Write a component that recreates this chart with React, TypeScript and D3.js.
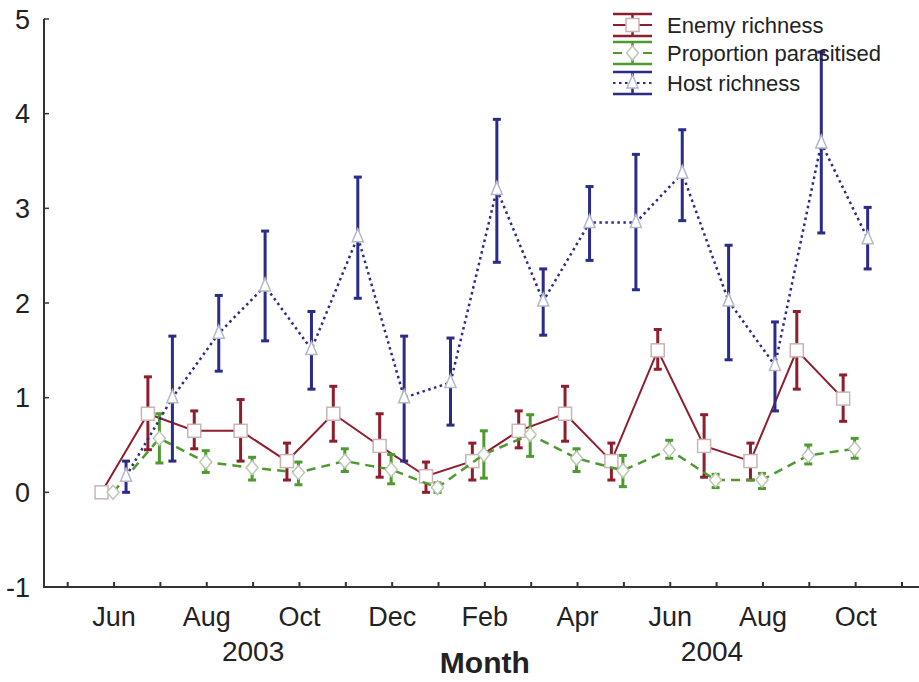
import * as d3 from 'd3'

// months on the x axis, May 2003 .. Nov 2004 (one tick each)
const tickMonths = ['May', 'Jun', 'Jul', 'Aug', 'Sep', 'Oct', 'Nov', 'Dec', 'Jan', 'Feb', 'Mar', 'Apr', 'May', 'Jun', 'Jul', 'Aug', 'Sep', 'Oct', 'Nov']
const labelledTicks = [1, 3, 5, 7, 9, 11, 13, 15, 17]
const years = [
  { label: '2003', at: 4.0 },
  { label: '2004', at: 13.9 },
]
const yTicks = [-1, 0, 1, 2, 3, 4, 5]

// sampled months Jun 2003 .. Oct 2004 (tick index)
const sampleIdx = [1, 2, 3, 4, 5, 6, 7, 8, 9, 10, 11, 12, 13, 14, 15, 16, 17]

const enemyMean = [0, 0.83, 0.65, 0.65, 0.33, 0.83, 0.49, 0.17, 0.33, 0.65, 0.83, 0.33, 1.5, 0.49, 0.33, 1.5, 0.99]
const enemyLow = [null, 0.45, 0.46, 0.33, 0.13, 0.54, 0.16, 0, 0.13, 0.47, 0.54, 0.13, 1.3, 0.16, 0.13, 1.09, 0.75]
const enemyHigh = [null, 1.22, 0.86, 0.98, 0.52, 1.12, 0.83, 0.32, 0.52, 0.86, 1.12, 0.52, 1.72, 0.82, 0.52, 1.91, 1.24]

const parasMean = [0, 0.57, 0.32, 0.26, 0.21, 0.33, 0.24, 0.05, 0.4, 0.61, 0.36, 0.23, 0.45, 0.13, 0.13, 0.39, 0.46]
const parasLow = [null, 0.31, 0.21, 0.13, 0.08, 0.22, 0.09, 0, 0.15, 0.38, 0.22, 0.06, 0.36, 0.05, 0.04, 0.3, 0.36]
const parasHigh = [null, 0.83, 0.44, 0.37, 0.32, 0.46, 0.4, 0.1, 0.65, 0.82, 0.46, 0.39, 0.55, 0.19, 0.2, 0.5, 0.57]

const hostMean = [0.17, 1.0, 1.68, 2.18, 1.51, 2.7, 1.0, 1.16, 3.2, 2.02, 2.85, 2.85, 3.37, 2.02, 1.34, 3.69, 2.68]
const hostLow = [0, 0.33, 1.28, 1.6, 1.09, 2.05, 0.33, 0.71, 2.43, 1.66, 2.45, 2.14, 2.87, 1.4, 0.86, 2.74, 2.36]
const hostHigh = [0.33, 1.65, 2.08, 2.76, 1.91, 3.33, 1.65, 1.63, 3.94, 2.36, 3.23, 3.57, 3.83, 2.61, 1.8, 4.65, 3.01]

const width = 919
const height = 682
const font = '"Liberation Sans", Arial, sans-serif'

const x = d3.scaleLinear().domain([0, 18]).range([67.7, 902])
const y = d3.scaleLinear().domain([-1, 5]).range([587, 19])

const series = [
  { name: 'Enemy richness', mean: enemyMean, low: enemyLow, high: enemyHigh, color: '#8e1d2e', dash: null, lw: 2, shift: -12.5, marker: 'square', mStroke: '#c9b4b6' },
  { name: 'Proportion parasitised', mean: parasMean, low: parasLow, high: parasHigh, color: '#4f9a2e', dash: '9,6', lw: 2.5, shift: -1, marker: 'diamond', mStroke: '#bcc9b4' },
  { name: 'Host richness', mean: hostMean, low: hostLow, high: hostHigh, color: '#2b2b88', dash: '2.5,3.5', lw: 2.5, shift: 12, marker: 'triangle', mStroke: '#b6b6cc' },
]

function Marker({ kind, cx, cy, stroke }) {
  if (kind === 'square') {
    return <rect x={cx - 6.5} y={cy - 6.5} width={13} height={13} fill="#fff" stroke={stroke} strokeWidth={1.5} />
  }
  if (kind === 'diamond') {
    return <path d={`M${cx},${cy - 7}L${cx + 6},${cy}L${cx},${cy + 7}L${cx - 6},${cy}Z`} fill="#fff" stroke={stroke} strokeWidth={1.5} />
  }
  return <path d={`M${cx},${cy - 8}L${cx + 5.5},${cy + 5}L${cx - 5.5},${cy + 5}Z`} fill="#fff" stroke={stroke} strokeWidth={1.5} />
}

export default function App() {
  const legendRows = [25, 53, 83]

  return (
    <svg width={width} height={height} style={{ position: 'absolute', left: 0, top: 0, background: '#fff' }} fontFamily={font}>
      {/* axes */}
      <line x1={44} x2={44} y1={y(5)} y2={y(-1)} stroke="#333" strokeWidth={2} />
      <line x1={43} x2={919} y1={y(-1)} y2={y(-1)} stroke="#333" strokeWidth={2} />
      {yTicks.map((t) => (
        <g key={t}>
          <line x1={44} x2={49} y1={y(t)} y2={y(t)} stroke="#333" strokeWidth={1.5} />
          <text x={30} y={y(t)} dy="0.36em" textAnchor="end" fontSize={27} fill="#222">
            {t}
          </text>
        </g>
      ))}
      {tickMonths.map((m, i) => (
        <line key={i} x1={x(i)} x2={x(i)} y1={y(-1)} y2={y(-1) - 5} stroke="#333" strokeWidth={2} />
      ))}
      {labelledTicks.map((i) => (
        <text key={i} x={x(i)} y={626} textAnchor="middle" fontSize={27} fill="#222">
          {tickMonths[i]}
        </text>
      ))}
      {years.map((yr) => (
        <text key={yr.label} x={x(yr.at)} y={661} textAnchor="middle" fontSize={28} fill="#222">
          {yr.label}
        </text>
      ))}
      <text x={x(9)} y={673} textAnchor="middle" fontSize={30} fontWeight="bold" fill="#222">
        Month
      </text>

      {/* series */}
      {series.map((s) => {
        const pts = sampleIdx.map((idx, k) => ({ px: x(idx) + s.shift, v: s.mean[k], lo: s.low[k], hi: s.high[k] }))
        const line = d3
          .line()
          .x((d) => d.px)
          .y((d) => y(d.v))
        return (
          <g key={s.name}>
            <path d={line(pts)} fill="none" stroke={s.color} strokeWidth={s.lw} strokeDasharray={s.dash || undefined} />
            {pts
              .filter((d) => d.lo !== null)
              .map((d, k) => (
                <g key={k} stroke={s.color} strokeWidth={3}>
                  <line x1={d.px} x2={d.px} y1={y(d.lo)} y2={y(d.hi)} />
                  <line x1={d.px - 4} x2={d.px + 4} y1={y(d.lo)} y2={y(d.lo)} />
                  <line x1={d.px - 4} x2={d.px + 4} y1={y(d.hi)} y2={y(d.hi)} />
                </g>
              ))}
            {pts.map((d, k) => (
              <Marker key={k} kind={s.marker} cx={d.px} cy={y(d.v)} stroke={s.mStroke} />
            ))}
          </g>
        )
      })}

      {/* legend */}
      {series.map((s, i) => {
        const cy = legendRows[i]
        return (
          <g key={s.name}>
            <g stroke={s.color} strokeWidth={2.5}>
              <line x1={613} x2={652} y1={cy - 11} y2={cy - 11} />
              <line x1={613} x2={652} y1={cy + 11} y2={cy + 11} />
              <line x1={632.5} x2={632.5} y1={cy - 11} y2={cy + 11} />
            </g>
            <line x1={613} x2={652} y1={cy} y2={cy} stroke={s.color} strokeWidth={2} strokeDasharray={s.dash || undefined} />
            <Marker kind={s.marker} cx={632.5} cy={cy} stroke={s.mStroke} />
            <text x={667} y={cy} dy="0.36em" fontSize={22} fill="#222">
              {s.name}
            </text>
          </g>
        )
      })}
    </svg>
  )
}
